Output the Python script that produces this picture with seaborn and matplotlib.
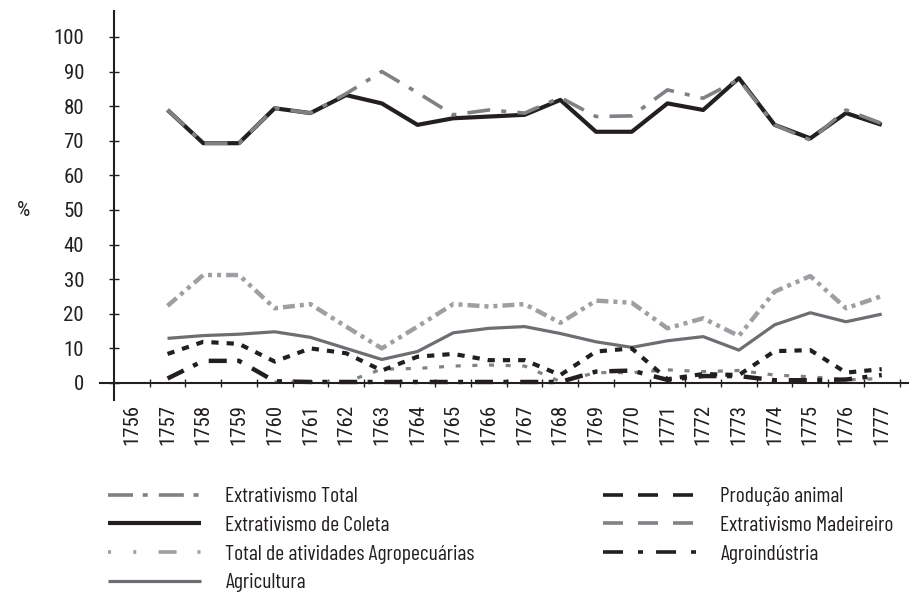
import numpy as np
import pandas as pd
import matplotlib
matplotlib.use("Agg")
import matplotlib.pyplot as plt
from matplotlib.lines import Line2D
import seaborn as sns

# ---------------- data ----------------
years = [1756, 1757, 1758, 1759, 1760, 1761, 1762, 1763, 1764, 1765, 1766,
         1767, 1768, 1769, 1770, 1771, 1772, 1773, 1774, 1775, 1776, 1777]
data_years = years[1:]

ext_total = [78.9, 69.3, 69.3, 79.4, 78.0, 83.6, 90.0, 83.9, 77.5, 78.9, 78.0,
             82.5, 77.0, 77.2, 84.7, 82.3, 87.7, 74.6, 70.2, 78.9, 75.0]
ext_coleta = [78.9, 69.3, 69.3, 79.4, 78.0, 83.2, 80.8, 74.6, 76.5, 77.0, 77.5,
              81.8, 72.6, 72.6, 80.8, 78.9, 88.1, 74.6, 70.7, 78.0, 74.6]
total_agro = [22.3, 31.2, 31.2, 21.6, 22.8, 16.3, 10.0, 16.3, 22.8, 22.1, 22.8,
              17.4, 23.8, 23.2, 15.8, 18.7, 13.6, 26.4, 30.9, 21.6, 25.1]
agricultura = [12.9, 13.7, 14.1, 14.8, 13.2, 10.0, 6.8, 9.1, 14.5, 15.8, 16.3,
               14.3, 11.9, 10.3, 12.2, 13.4, 9.5, 16.8, 20.3, 17.7, 19.9]
prod_animal = [8.4, 11.9, 11.3, 6.2, 10.0, 8.6, 3.6, 7.6, 8.4, 6.6, 6.6,
               2.3, 9.1, 10.0, 1.1, 2.6, 2.3, 9.2, 9.5, 3.0, 4.0]
madeireiro = [np.nan, np.nan, np.nan, 0.3, 0.3, 0.3, 4.0, 4.2, 4.9, 5.2, 4.9,
              0.4, 3.0, 3.0, 3.8, 3.3, 3.6, 2.3, 1.8, 0.9, 1.3]
agroindustria = [1.3, 6.4, 6.4, 0.5, 0.3, 0.3, 0.3, 0.3, 0.3, 0.3, 0.3,
                 0.3, 3.3, 3.6, 0.9, 2.0, 2.0, 0.8, 0.8, 1.0, 2.3]

labels = ["Extrativismo Total", "Extrativismo de Coleta",
          "Total de atividades Agropecuárias", "Agricultura",
          "Produção animal", "Extrativismo Madeireiro", "Agroindústria"]
series = [ext_total, ext_coleta, total_agro, agricultura,
          prod_animal, madeireiro, agroindustria]

# ---------------- style ----------------
sns.set_theme(style="white")
plt.rcParams["font.family"] = ["Barlow Condensed", "DejaVu Sans"]
plt.rcParams["lines.scale_dashes"] = False
plt.rcParams["lines.solid_capstyle"] = "butt"
plt.rcParams["lines.dash_capstyle"] = "butt"

FS = 15.5
TICK_FAMILY = ["Roboto Condensed", "Barlow Condensed", "DejaVu Sans"]
TICK_FS = 15
BLACK = "#231f20"
styles = {
    "Extrativismo Total": dict(color="#808184", lw=2.6, dash=(16.5, 8, 3.6, 8)),
    "Extrativismo de Coleta": dict(color=BLACK, lw=3.0, dash=None),
    "Total de atividades Agropecuárias": dict(color="#9d9fa2", lw=3.2,
                                              dash=(8.6, 3.6, 2.9, 3.6, 2.9, 3.6)),
    "Agricultura": dict(color="#6d6e71", lw=2.3, dash=None),
    "Produção animal": dict(color=BLACK, lw=3.0, dash=(5.2, 5.8)),
    "Extrativismo Madeireiro": dict(color="#808285", lw=2.3, dash=(3.6, 8.4)),
    "Agroindústria": dict(color=BLACK, lw=3.2, dash=(13, 7.5, 3.6, 8.5)),
}
legend_dash = {
    "Extrativismo Total": (0, (18, 7, 3.6, 8)),
    "Extrativismo de Coleta": None,
    "Total de atividades Agropecuárias": (28, (13, 15, 2.2, 16, 2.2, 16)),
    "Agricultura": None,
    "Produção animal": (0, (14.4, 10.8)),
    "Extrativismo Madeireiro": (0, (14.4, 10.8)),
    "Agroindústria": (0, (14.4, 10.8, 3.6, 9.4)),
}

W, H = 909, 603
fig = plt.figure(figsize=(W / 100, H / 100), dpi=100)
x_left_px, x_right_px = 99.7, 908.5
y_bottom_px, y_top_px = 400.3, 11.0
ax = fig.add_axes([x_left_px / W, 1 - y_bottom_px / H,
                   (x_right_px - x_left_px) / W, (y_bottom_px - y_top_px) / H])

rows = []
for lab, vals in zip(labels, series):
    for yr, v in zip(data_years, vals):
        rows.append({"pos": years.index(yr), "serie": lab, "valor": v})
df = pd.DataFrame(rows)

draw_order = ["Total de atividades Agropecuárias", "Agricultura",
              "Extrativismo Madeireiro", "Agroindústria", "Produção animal",
              "Extrativismo de Coleta", "Extrativismo Total"]
for lab in draw_order:
    st = styles[lab]
    sub = df[df["serie"] == lab].dropna()
    sns.lineplot(data=sub, x="pos", y="valor", ax=ax, color=st["color"],
                 linewidth=st["lw"], sort=False, legend=False)
    ln = ax.lines[-1]
    if st["dash"] is not None:
        ln.set_dashes(st["dash"])

ax.set_xlim(-0.9, 21.75)
ax.set_ylim(-5, 107.5)
ax.set_xlabel("")
ax.set_ylabel("")

for s in ["top", "right"]:
    ax.spines[s].set_visible(False)
ax.spines["left"].set_position(("data", -0.5))
ax.spines["bottom"].set_position(("data", 0))
for s in ["left", "bottom"]:
    ax.spines[s].set_color(BLACK)
    ax.spines[s].set_linewidth(1.5)

ax.set_yticks(np.arange(0, 101, 10))
ax.set_yticklabels([str(v) for v in range(0, 101, 10)])
ax.tick_params(axis="y", which="major", direction="inout", length=7, width=1.0,
               color=BLACK, pad=18, labelsize=TICK_FS, labelcolor=BLACK, left=True)

ax.set_xticks(range(len(years)))
ax.set_xticklabels([str(y) for y in years], rotation=90, va="top", ha="center")
ax.tick_params(axis="x", which="major", length=0, pad=15, labelsize=TICK_FS,
               labelcolor=BLACK, bottom=True)
ax.set_xticks(np.arange(0.5, len(years), 1.0), minor=True)
ax.tick_params(axis="x", which="minor", direction="inout", length=6, width=1.0,
               color=BLACK, bottom=True)

fig.canvas.draw()
for t in ax.get_xticklabels() + ax.get_yticklabels():
    t.set_fontfamily(TICK_FAMILY)

fig.text(23 / W, 1 - 210 / H, "%", fontsize=TICK_FS, color=BLACK,
         ha="center", va="center", family=TICK_FAMILY)

def handle(lab):
    st = styles[lab]
    h = Line2D([], [], color=st["color"], lw=2.6 if st["dash"] else st["lw"])
    if legend_dash[lab] is not None:
        h.set_linestyle(legend_dash[lab])
    return h

common = dict(loc="upper left", frameon=False, fontsize=FS, borderpad=0,
              borderaxespad=0, handlelength=4.3, handletextpad=1.15,
              labelspacing=0.45, labelcolor=BLACK)
leg1 = fig.legend([handle(l) for l in labels[:4]], labels[:4],
                  bbox_to_anchor=(108 / W, 1 - 487 / H), **common)
leg2 = fig.legend([handle(l) for l in labels[4:]], labels[4:],
                  bbox_to_anchor=(603 / W, 1 - 487 / H), **common)

fig.savefig("out.png", dpi=100)
